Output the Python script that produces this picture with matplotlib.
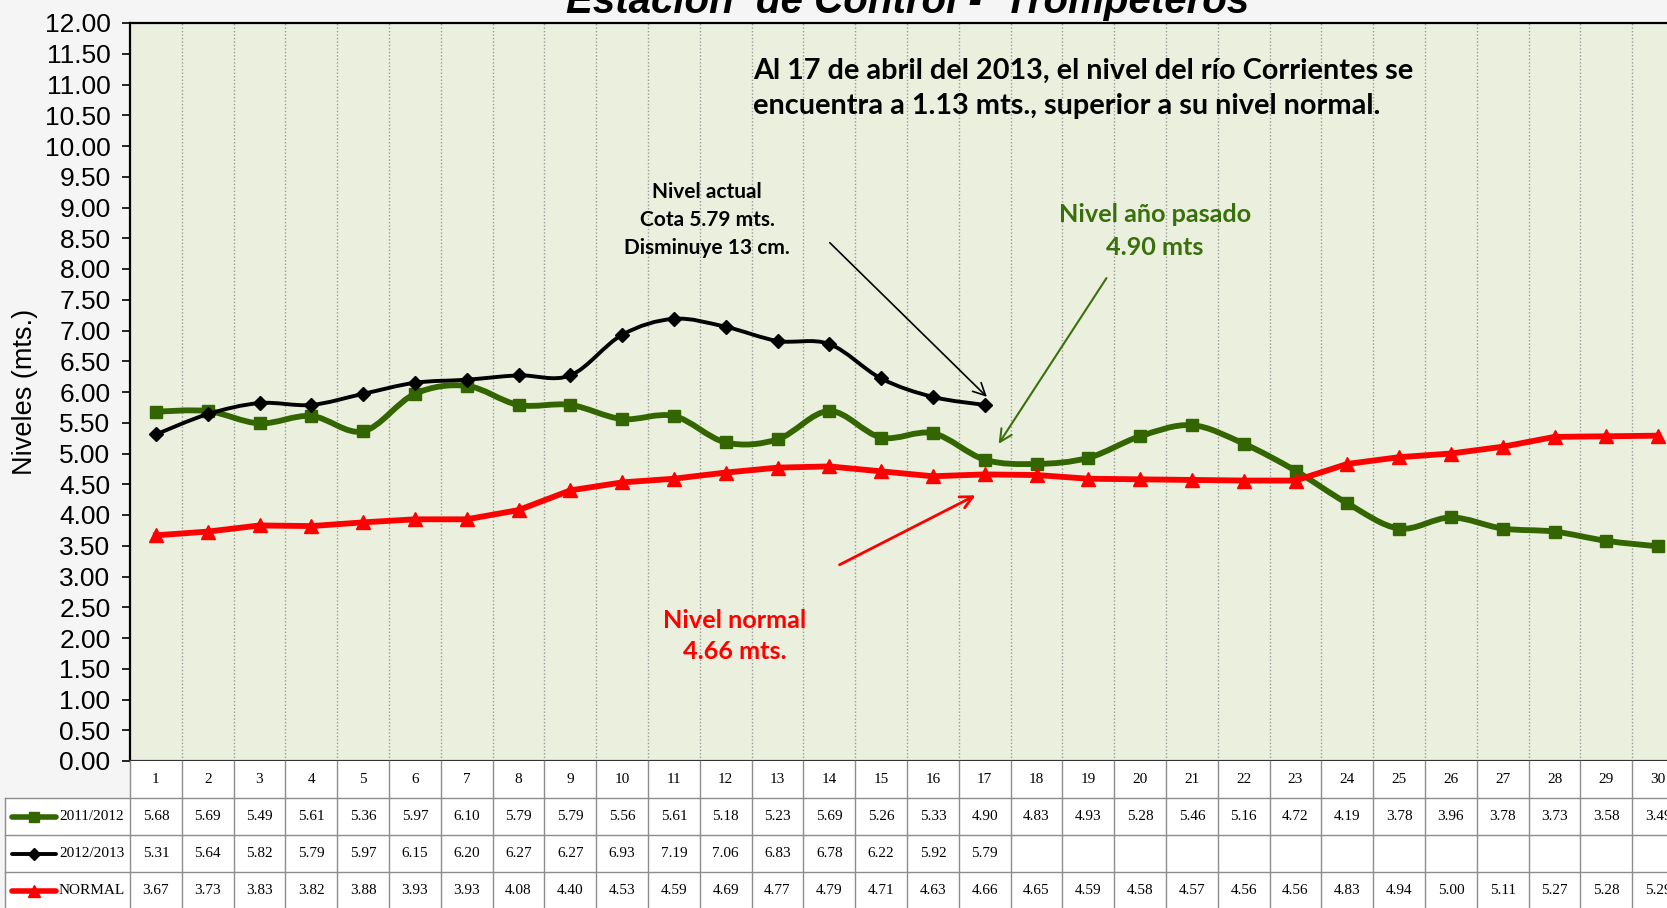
import numpy as np
import matplotlib
matplotlib.use("Agg")
import matplotlib.pyplot as plt
from matplotlib.path import Path
from matplotlib.patches import PathPatch

days = list(range(1, 31))
nivel_2011_2012 = [5.68, 5.69, 5.49, 5.61, 5.36, 5.97, 6.10, 5.79, 5.79, 5.56,
                   5.61, 5.18, 5.23, 5.69, 5.26, 5.33, 4.90, 4.83, 4.93, 5.28,
                   5.46, 5.16, 4.72, 4.19, 3.78, 3.96, 3.78, 3.73, 3.58, 3.49]
nivel_2012_2013 = [5.31, 5.64, 5.82, 5.79, 5.97, 6.15, 6.20, 6.27, 6.27, 6.93,
                   7.19, 7.06, 6.83, 6.78, 6.22, 5.92, 5.79]
nivel_normal = [3.67, 3.73, 3.83, 3.82, 3.88, 3.93, 3.93, 4.08, 4.40, 4.53,
                4.59, 4.69, 4.77, 4.79, 4.71, 4.63, 4.66, 4.65, 4.59, 4.58,
                4.57, 4.56, 4.56, 4.83, 4.94, 5.00, 5.11, 5.27, 5.28, 5.29]
series_names = ["2011/2012", "2012/2013", "NORMAL"]

GREEN = "#336600"
TXT_GREEN = "#3A700C"
RED = "#FF0000"


def smooth_path(x, y):
    # excel-like smoothed line (catmull-rom as cubic beziers)
    pts = np.column_stack([x, y]).astype(float)
    n = len(pts)
    verts, codes = [pts[0]], [Path.MOVETO]
    for i in range(n - 1):
        p0 = pts[i - 1] if i > 0 else pts[i]
        p1, p2 = pts[i], pts[i + 1]
        p3 = pts[i + 2] if i + 2 < n else pts[i + 1]
        verts += [p1 + (p2 - p0) / 6, p2 - (p3 - p1) / 6, p2]
        codes += [Path.CURVE4] * 3
    return Path(verts, codes)


W, H = 1667, 908
fig = plt.figure(figsize=(W / 100, H / 100), dpi=100, facecolor="#f5f5f5")

left, right, bottom, top = 130 / W, 1684 / W, 147 / H, 885 / H
ax = fig.add_axes([left, bottom, right - left, top - bottom])
ax.set_facecolor("#EBF0DE")
ax.set_xlim(0.5, 30.5)
ax.set_ylim(0, 12)

ax.set_yticks(np.arange(0, 12.01, 0.5))
ax.set_yticklabels([f"{v:.2f}" for v in np.arange(0, 12.01, 0.5)],
                   fontsize=19, family="Liberation Sans")
ax.tick_params(axis="y", direction="out", length=6, width=1.2, pad=8)
ax.set_xticks([])
ax.set_xticks(np.arange(1.5, 30.5, 1), minor=True)
ax.tick_params(axis="x", which="minor", length=0)
ax.grid(axis="x", which="minor", color="#9a9a9a", lw=1.0, ls=(0, (1, 1.5)))
for s in ["left", "top", "bottom"]:
    ax.spines[s].set_linewidth(1.6)
ax.spines["bottom"].set_color("#333333")
ax.set_ylabel("Niveles (mts.)", fontsize=19.5, family="Liberation Sans", labelpad=5)

x1 = days
x2 = days[:len(nivel_2012_2013)]
ax.add_patch(PathPatch(smooth_path(x1, nivel_2011_2012), fc="none", ec=GREEN,
                       lw=4.2, capstyle="round", zorder=3))
ax.plot(x1, nivel_2011_2012, ls="none", marker="s", ms=9, color=GREEN, zorder=4)
ax.add_patch(PathPatch(smooth_path(x2, nivel_2012_2013), fc="none", ec="black",
                       lw=2.8, capstyle="round", zorder=5))
ax.plot(x2, nivel_2012_2013, ls="none", marker="D", ms=7, color="black", zorder=6)
ax.plot(x1, nivel_normal, color=RED, lw=4.2, marker="^", ms=10,
        solid_joinstyle="round", zorder=4)

# notes
fnt = ["Lato", "DejaVu Sans"]
ax.text(12.53, 10.94, "Al 17 de abril del 2013, el nivel del río Corrientes se\n"
        "encuentra a 1.13 mts., superior a su nivel normal.",
        ha="left", va="center", fontsize=20.8, fontweight="bold", family=fnt,
        linespacing=1.42)
ax.text(11.64, 8.80, "Nivel actual\nCota 5.79 mts.\nDisminuye 13 cm.", ha="center",
        va="center", fontsize=15, fontweight="bold", family=fnt, linespacing=1.5)
ax.annotate("", xy=(17.08, 5.89), xytext=(13.97, 8.46),
            arrowprops=dict(arrowstyle="->", color="black", lw=1.2, mutation_scale=22))
ax.text(20.29, 8.62, "Nivel año pasado\n4.90 mts", ha="center", va="center",
        fontsize=18.2, fontweight="bold", family=fnt, color=TXT_GREEN, linespacing=1.5)
ax.annotate("", xy=(17.24, 5.12), xytext=(19.38, 7.89),
            arrowprops=dict(arrowstyle="->", color=TXT_GREEN, lw=1.5, mutation_scale=22))
ax.text(12.18, 2.03, "Nivel normal\n4.66 mts.", ha="center", va="center",
        fontsize=18.2, fontweight="bold", family=fnt, color=RED, linespacing=1.45)
ax.annotate("", xy=(16.87, 4.34), xytext=(14.15, 3.17),
            arrowprops=dict(arrowstyle="->", color=RED, lw=2, mutation_scale=22))

fig.text(908 / W, 1 - 13 / H, "Estación  de Control -  Trompeteros", ha="center",
         va="baseline", fontsize=29, fontweight="bold", style="italic",
         family="Liberation Sans")

# data table under the chart
tax = fig.add_axes([left, 0, right - left, bottom])
tax.set_xlim(0.5, 30.5)
tax.set_ylim(3.96, 0)
tax.axis("off")
x_lab = 0.5 - 125 / 51.8
tax.fill_between([0.5, 30.5], 0, 4, color="white", zorder=0)
tax.fill_between([x_lab, 0.5], 1, 4, color="white", zorder=0, clip_on=False)
lc, lw = "#8c8c8c", 1.0
for k in range(1, 5):
    tax.plot([x_lab, 30.5], [k, k], color=lc, lw=lw, clip_on=False)
for b in np.arange(1.5, 31, 1):
    tax.plot([b, b], [0, 4], color=lc, lw=lw, clip_on=False)
tax.plot([0.5, 0.5], [0, 4], color=lc, lw=lw, clip_on=False)
tax.plot([x_lab, x_lab], [1, 4], color=lc, lw=lw, clip_on=False)

tfont = dict(fontsize=11, family="Liberation Serif", ha="center", va="center")
for d in days:
    tax.text(d, 0.5, str(d), **tfont)
rows = [nivel_2011_2012, nivel_2012_2013, nivel_normal]
styles = [(GREEN, "s", 7, 4), ("black", "D", 6, 2.8), (RED, "^", 9, 4)]
for r, (vals, name, (c, m, ms, lwid)) in enumerate(zip(rows, series_names, styles), start=1):
    for d, v in zip(days, vals):
        tax.text(d, r + 0.5, f"{v:.2f}", **tfont)
    px = lambda p: 0.5 + (p - 130) / 51.8
    tax.plot([px(12), px(56)], [r + 0.5, r + 0.5], color=c, lw=lwid,
             solid_capstyle="round", clip_on=False)
    tax.plot([px(34)], [r + 0.5], marker=m, ms=ms, color=c, clip_on=False)
    tax.text(px(59), r + 0.5, name, fontsize=11, family="Liberation Serif",
             ha="left", va="center", clip_on=False)

fig.savefig("out.png", dpi=100, facecolor=fig.get_facecolor())
